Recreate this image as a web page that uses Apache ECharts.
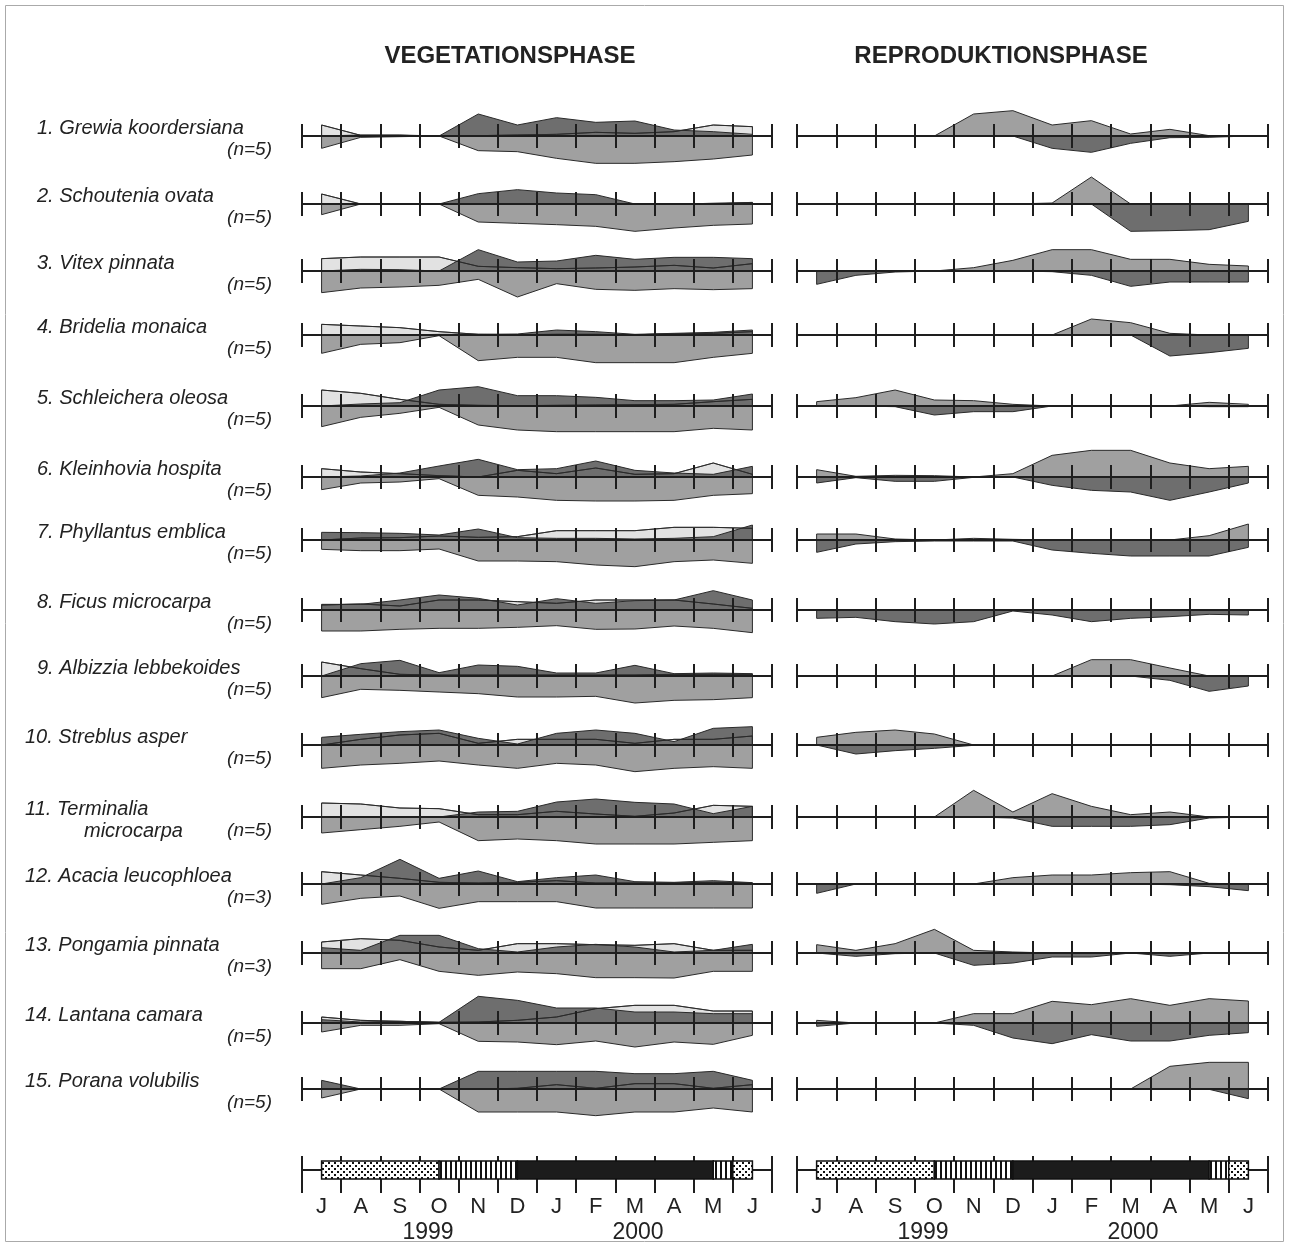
<!DOCTYPE html>
<html><head><meta charset="utf-8">
<script src="https://cdn.jsdelivr.net/npm/echarts/dist/echarts.min.js"></script>
<style>html,body{margin:0;padding:0;background:#fff}#c{width:1289px;height:1247px}</style>
</head><body><div id="c"></div>
<script>
// ---------- DATA ----------
const species = ['Grewia koordersiana','Schoutenia ovata','Vitex pinnata','Bridelia monaica','Schleichera oleosa',
  'Kleinhovia hospita','Phyllantus emblica','Ficus microcarpa','Albizzia lebbekoides','Streblus asper',
  'Terminalia microcarpa','Acacia leucophloea','Pongamia pinnata','Lantana camara','Porana volubilis'];
const nObs = [5,5,5,5,5,5,5,5,5,5,5,3,3,5,5];
const months = ['J','A','S','O','N','D','J','F','M','A','M','J'];
const years = ['1999','2000'];
const panelTitles = ['VEGETATIONSPHASE','REPRODUKTIONSPHASE'];

// Vegetationsphase: light (above), dark (above), medium (below, negative)
const vegLight = [
  [33,2,2,0,1,3,5,11,8,13,33,28],
  [30,0,0,0,0,0,0,0,0,0,2,4],
  [37,42,42,42,14,10,7,9,12,17,9,22],
  [32,27,22,10,2,1,2,2,1,3,5,10],
  [48,38,20,5,2,1,2,3,4,5,13,20],
  [25,15,10,4,0,20,10,27,8,10,42,8],
  [6,6,7,12,8,10,28,28,28,38,38,35],
  [15,18,12,30,30,25,20,30,30,30,18,5],
  [42,22,5,3,3,3,3,3,3,5,5,5],
  [5,17,30,35,5,17,17,17,5,17,17,27],
  [42,39,27,25,7,7,17,9,2,12,35,32],
  [37,27,17,5,3,5,10,3,3,3,5,3],
  [33,43,38,18,8,28,28,25,23,28,8,8],
  [18,8,5,2,3,8,18,43,53,53,36,36],
  [0,0,0,0,0,2,13,2,16,16,2,13]
];
const vegDark = [
  [0,3,3,0,66,33,55,41,45,18,13,5],
  [0,0,0,0,31,43,33,28,0,0,0,5],
  [4,5,4,0,64,27,30,47,35,41,41,37],
  [0,0,0,2,2,3,15,10,2,5,8,15],
  [0,6,10,48,58,31,31,26,16,16,18,36],
  [0,3,12,33,53,22,25,48,20,12,8,32],
  [23,22,20,15,33,7,5,5,3,5,10,45],
  [17,17,30,45,35,15,34,20,28,30,58,30],
  [0,37,47,10,33,29,9,9,32,7,9,7],
  [23,32,40,45,20,3,35,45,35,10,50,55],
  [0,0,0,0,15,17,45,54,44,39,10,32],
  [0,19,74,17,39,7,19,27,7,5,10,4],
  [16,8,53,53,13,3,18,26,18,3,8,26],
  [10,3,5,2,80,68,45,45,33,33,28,28],
  [26,0,0,0,53,53,53,53,46,46,53,26]
];
const vegMid = [
  [-37,-4,-2,0,-44,-47,-67,-82,-82,-77,-69,-57],
  [-32,0,0,0,-54,-58,-62,-67,-82,-72,-64,-60],
  [-65,-51,-48,-43,-25,-78,-38,-55,-58,-53,-56,-53],
  [-55,-28,-23,-2,-77,-67,-67,-83,-83,-83,-67,-55],
  [-62,-34,-22,-4,-57,-72,-77,-77,-77,-77,-67,-72],
  [-38,-18,-15,-5,-55,-60,-70,-72,-72,-70,-55,-50],
  [-28,-32,-32,-27,-63,-63,-65,-75,-80,-65,-60,-70],
  [-63,-63,-58,-55,-55,-52,-47,-58,-57,-48,-55,-68],
  [-65,-40,-43,-48,-53,-63,-63,-61,-81,-73,-71,-65],
  [-70,-60,-55,-48,-60,-70,-55,-60,-80,-70,-65,-70],
  [-48,-38,-28,-15,-71,-66,-71,-81,-81,-81,-76,-71],
  [-61,-43,-36,-73,-53,-53,-53,-72,-72,-72,-72,-72],
  [-47,-47,-20,-55,-67,-57,-62,-74,-74,-75,-55,-55],
  [-27,-7,-7,-2,-55,-57,-65,-54,-72,-57,-64,-37],
  [-27,0,0,0,-69,-69,-69,-80,-69,-69,-57,-69]
];
// Reproduktionsphase: medium (above), dark (below, negative)
const repMid = [
  [0,0,0,0,66,76,33,46,6,20,1,0],
  [0,0,0,0,0,0,3,81,0,0,0,0],
  [0,0,0,0,10,32,64,64,35,35,20,15],
  [0,0,0,0,0,0,0,48,37,5,0,0],
  [13,25,48,18,16,5,0,0,0,0,11,5],
  [22,2,5,4,0,10,65,80,80,42,25,32],
  [18,18,3,0,5,2,0,0,0,0,13,48],
  [0,0,0,0,0,0,0,0,0,0,0,0],
  [0,0,0,0,0,0,0,49,49,24,0,0],
  [23,38,45,33,0,0,0,0,0,0,0,0],
  [0,0,0,0,80,15,70,32,7,15,0,0],
  [0,0,0,0,0,19,27,27,34,37,2,0],
  [25,8,28,71,8,3,0,0,0,0,0,0],
  [8,0,0,0,28,28,65,55,73,53,73,66],
  [0,0,0,0,0,0,0,0,0,68,80,80]
];
const repDark = [
  [0,0,0,0,0,0,-37,-49,-22,-5,-4,0],
  [0,0,0,0,0,0,0,0,-82,-80,-77,-52],
  [-40,-13,-3,0,0,0,-2,-13,-46,-33,-33,-33],
  [0,0,0,0,0,0,0,0,0,-63,-53,-40],
  [0,0,-2,-27,-17,-17,0,0,0,0,-2,-2],
  [-18,-2,-13,-13,-1,0,-25,-40,-45,-70,-45,-18],
  [-37,-12,-5,-3,-3,-3,-30,-40,-48,-48,-48,-22],
  [-25,-22,-35,-42,-35,-3,-15,-35,-25,-20,-13,-15],
  [0,0,0,0,0,0,0,0,0,-13,-46,-30],
  [0,-27,-17,-10,-1,0,0,0,0,0,0,0],
  [0,0,0,0,0,-3,-28,-28,-28,-23,-3,0],
  [-28,0,0,0,0,0,0,0,0,-2,-8,-20],
  [-3,-10,-2,0,-37,-30,-12,-12,0,-10,0,0],
  [-10,0,0,0,-7,-45,-62,-35,-54,-54,-37,-29],
  [0,0,0,0,0,0,0,0,0,0,-1,-29]
];
// season bar segments (month-index start, end, kind)
const seasonStart = [0.5, 3.5, 5.5, 10.5, 11.0];
const seasonEnd   = [3.5, 5.5, 10.5, 11.0, 11.5];
const seasonKind  = ['dry','transition','rain','transition','dry'];

// ---------- LAYOUT ----------
const ROW_Y = [136,204,271,335,406,477,540,610,676,745,817,884,953,1023,1089];
const LEFT_X = 302, LEFT_W = 470, RIGHT_X = 797, RIGHT_W = 471;
const C_LIGHT = '#e2e2e2', C_MID = '#a0a0a0', C_DARK = '#6e6e6e', C_LINE = '#2a2a2a', C_AX = '#1e1e1e';
const FONT = '"Liberation Sans", Arial, Helvetica, sans-serif';

const grids = [], xAxes = [], yAxes = [], series = [], graphics = [];

function pts(arr){ const p = [[0.5,0]]; arr.forEach((v,i)=>p.push([i+0.5, v])); p.push([11.5,0]); return p; }

function addPanel(left, width, y){
  const gi = grids.length;
  grids.push({left:left, top:y-12, width:width, height:24, outerBoundsMode:'none'});
  const xi = xAxes.length;
  xAxes.push({gridIndex:gi, type:'value', min:0, max:12, interval:1, z:10,
    axisLine:{show:true, onZero:true, lineStyle:{color:C_AX, width:2}},
    axisTick:{show:false}, axisLabel:{show:false},
    splitLine:{show:true, showMinLine:true, showMaxLine:true, lineStyle:{color:C_AX, width:2}}});
  yAxes.push({gridIndex:gi, type:'value', min:-36, max:36, show:false});
  return {gi, xi};
}
function area(p, arr, color){
  series.push({type:'line', xAxisIndex:p.xi, yAxisIndex:p.gi, data:pts(arr), symbol:'none', clip:false,
    silent:true, animation:false, lineStyle:{color:C_LINE, width:1}, areaStyle:{color:color, opacity:1}});
}
function outline(p, arr){
  series.push({type:'line', xAxisIndex:p.xi, yAxisIndex:p.gi, data:pts(arr), symbol:'none', clip:false,
    silent:true, animation:false, z:3, lineStyle:{color:C_LINE, width:0.8}});
}
function txt(x, y, text, font, align){
  graphics.push({type:'text', x:x, y:y, style:{text:text, font:font, fill:'#222', align:align, verticalAlign:'middle', textAlign:align, textVerticalAlign:'middle'}});
}

for (let r = 0; r < 15; r++){
  const y = ROW_Y[r];
  const pl = addPanel(LEFT_X, LEFT_W, y);
  area(pl, vegLight[r], C_LIGHT);
  area(pl, vegDark[r], C_DARK);
  area(pl, vegMid[r], C_MID);
  outline(pl, vegLight[r]);
  const pr = addPanel(RIGHT_X, RIGHT_W, y);
  area(pr, repMid[r], C_MID);
  area(pr, repDark[r], C_DARK);

  const num = (r+1) + '. ';
  const lx = r < 9 ? 37 : 25;
  const name = species[r];
  const NF = 'italic 20px ' + FONT;
  if (r === 10){
    const parts = name.split(' ');
    txt(lx, y-8, num+parts[0], NF, 'left');
    txt(84, y+14, parts[1], NF, 'left');
  } else {
    txt(lx, y-8, num+name, NF, 'left');
  }
  txt(272, y+14, '(n='+nObs[r]+')', 'italic 19px '+FONT, 'right');
}

// patterns
function dotPattern(){
  const c = document.createElement('canvas'); c.width = 6; c.height = 6;
  const g = c.getContext('2d'); g.fillStyle = '#fff'; g.fillRect(0,0,6,6);
  g.fillStyle = '#111'; g.fillRect(1,1,2,2); g.fillRect(4,4,2,2);
  return c;
}
function stripePattern(){
  const c = document.createElement('canvas'); c.width = 5; c.height = 5;
  const g = c.getContext('2d'); g.fillStyle = '#fff'; g.fillRect(0,0,5,5);
  g.fillStyle = '#111'; g.fillRect(0,0,2,5);
  return c;
}
const FILLS = {dry:{image:dotPattern(), repeat:'repeat'}, transition:{image:stripePattern(), repeat:'repeat'}, rain:'#1c1c1c'};
const kinds = ['dry','transition','rain'];

function addBottom(left, width){
  const gi = grids.length;
  grids.push({left:left, top:1156, width:width, height:37, outerBoundsMode:'none'});
  const xi = xAxes.length;
  xAxes.push({gridIndex:gi, type:'value', min:0, max:12, interval:1, z:1,
    axisLine:{show:true, onZero:true, lineStyle:{color:C_AX, width:2}},
    axisTick:{show:false}, axisLabel:{show:false},
    splitLine:{show:true, showMinLine:true, showMaxLine:true, lineStyle:{color:C_AX, width:2}}});
  xAxes.push({gridIndex:gi, type:'category', data:months, position:'bottom', boundaryGap:true,
    axisLine:{show:false, onZero:false}, axisTick:{show:false}, splitLine:{show:false},
    axisLabel:{show:true, margin:3, fontSize:22, color:'#222', fontFamily:FONT}});
  yAxes.push({gridIndex:gi, type:'value', min:-23, max:14, show:false});
  series.push({type:'custom', xAxisIndex:xi, yAxisIndex:gi, clip:false, silent:true, animation:false, z:5,
    encode:{x:[0,1]},
    data: seasonStart.map((s,i)=>[s, seasonEnd[i], kinds.indexOf(seasonKind[i])]),
    renderItem: function(params, api){
      const p1 = api.coord([api.value(0), 9]);
      const p2 = api.coord([api.value(1), -9]);
      return {type:'rect', shape:{x:p1[0], y:p1[1], width:p2[0]-p1[0], height:p2[1]-p1[1]},
        style:{fill:FILLS[kinds[api.value(2)]], stroke:'#111', lineWidth:1.5}};
    }});
}
addBottom(LEFT_X, LEFT_W);
addBottom(RIGHT_X, RIGHT_W);

// titles & year labels
txt(510, 56, panelTitles[0], 'bold 24px '+FONT, 'center');
txt(1001, 56, panelTitles[1], 'bold 24px '+FONT, 'center');
[[428,years[0]],[638,years[1]],[923,years[0]],[1133,years[1]]].forEach(function(t){
  txt(t[0], 1233, t[1], '23px '+FONT, 'center');
});
graphics.push({type:'rect', shape:{x:5.5, y:5.5, width:1278, height:1236}, style:{fill:'none', stroke:'#aaa', lineWidth:1}, z:-1});

const chart = echarts.init(document.getElementById('c'), null, {renderer:'canvas'});
chart.setOption({animation:false, backgroundColor:'#fff', grid:grids, xAxis:xAxes, yAxis:yAxes, series:series, graphic:graphics});
</script>
</body></html>
